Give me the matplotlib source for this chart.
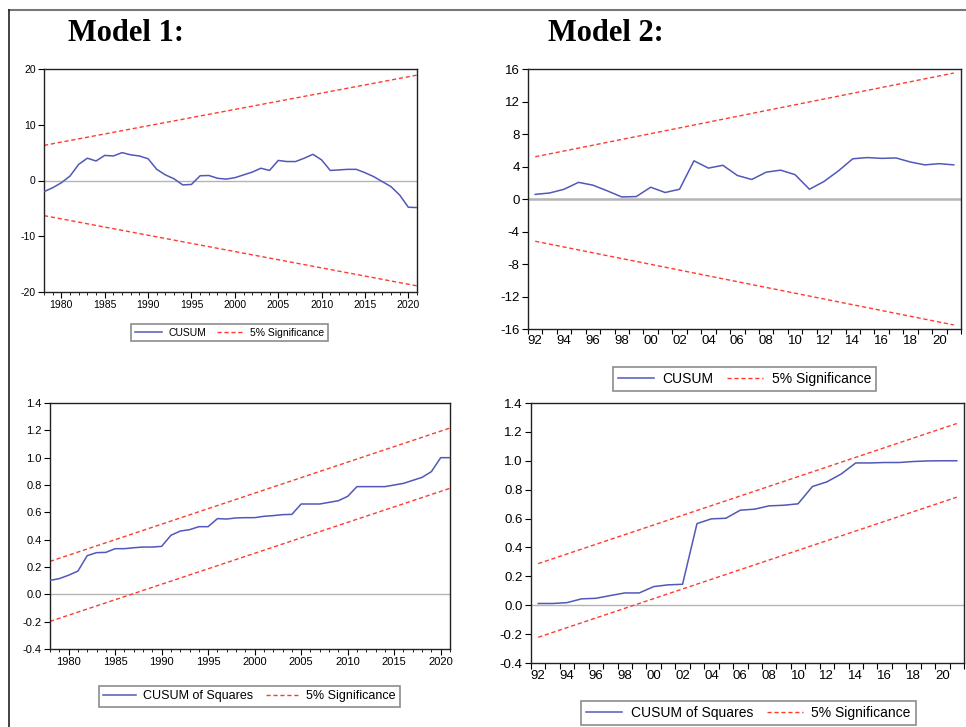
import numpy as np
import matplotlib
matplotlib.use("Agg")
import matplotlib.pyplot as plt
from matplotlib.lines import Line2D

# ---------------- data ----------------
years_m1 = list(range(1978, 2022))
cusum_m1 = [-2.0, -1.3, -0.4, 0.8, 2.9, 4.0, 3.5, 4.5, 4.4, 5.0, 4.6, 4.4, 3.9, 2.0,
            1.0, 0.3, -0.8, -0.7, 0.85, 0.9, 0.4, 0.25, 0.5, 1.0, 1.5, 2.2, 1.8, 3.6,
            3.4, 3.4, 4.0, 4.7, 3.7, 1.8, 1.9, 2.0, 2.0, 1.4, 0.7, -0.2, -1.1, -2.6,
            -4.8, -4.85]
cusum_m1_upper = [6.3, 18.9]      # 5% band at first and last year
cusum_m1_lower = [-6.3, -18.9]

cusumsq_m1 = [0.102, 0.115, 0.14, 0.17, 0.283, 0.305, 0.307, 0.334, 0.334, 0.341, 0.346,
              0.346, 0.351, 0.432, 0.463, 0.473, 0.495, 0.495, 0.554, 0.551, 0.559, 0.561,
              0.561, 0.571, 0.576, 0.583, 0.585, 0.661, 0.661, 0.661, 0.673, 0.685, 0.717,
              0.788, 0.788, 0.788, 0.788, 0.80, 0.812, 0.834, 0.856, 0.898, 1.0, 1.0]
cusumsq_m1_upper = [0.241, 1.217]
cusumsq_m1_lower = [-0.198, 0.776]

years_m2 = list(range(1992, 2022))
cusum_m2 = [0.57, 0.74, 1.2, 2.05, 1.7, 1.0, 0.25, 0.3, 1.45, 0.8, 1.2, 4.7, 3.8, 4.15,
            2.9, 2.4, 3.3, 3.55, 3.0, 1.2, 2.15, 3.45, 4.95, 5.1, 5.0, 5.05, 4.55, 4.2,
            4.35, 4.2]
cusum_m2_upper = [5.2, 15.5]
cusum_m2_lower = [-5.2, -15.5]

cusumsq_m2 = [0.012, 0.012, 0.018, 0.044, 0.048, 0.067, 0.085, 0.085, 0.129, 0.141, 0.145,
              0.565, 0.598, 0.602, 0.658, 0.665, 0.688, 0.692, 0.702, 0.822, 0.854, 0.909,
              0.985, 0.985, 0.988, 0.988, 0.995, 0.999, 1.0, 1.0]
cusumsq_m2_upper = [0.288, 1.258]
cusumsq_m2_lower = [-0.222, 0.748]

titles = ["Model 1:", "Model 2:"]

# ---------------- style ----------------
W, H = 966, 727
BLUE = "#5158b8"
RED = "#ff3b30"
ZERO = "#b4b4b4"
SANS = ["Liberation Sans", "DejaVu Sans"]
plt.rcParams["font.family"] = SANS

fig = plt.figure(figsize=(W / 100, H / 100), dpi=100)
fig.patch.set_facecolor("white")


def rect(l, r, t, b):
    return [l / W, 1 - b / H, (r - l) / W, (b - t) / H]


def panel(r, years, series, upper, lower, ylim, yticks, yfmt, annual2, fs,
          label, leg_xy, leg_fs, zero_lw=1.0, xpad=2, xtl=4.5):
    ax = fig.add_axes(rect(*r))
    ax.axhline(0, color=ZERO, lw=zero_lw, zorder=1)
    ends = [years[0], years[-1]]
    ax.plot(ends, upper, color=RED, lw=1.0, ls=(0, (3, 2)), zorder=2)
    ax.plot(ends, lower, color=RED, lw=1.0, ls=(0, (3, 2)), zorder=2)
    ax.plot(years, series, color=BLUE, lw=1.1, zorder=3)
    ax.set_ylim(*ylim)
    ax.set_yticks(yticks)
    ax.set_yticklabels([yfmt.format(v) for v in yticks])
    if annual2:
        ax.set_xlim(years[0] - 0.5, years[-1] + 0.5)
        ax.set_xticks(np.arange(years[0] - 0.5, years[-1] + 1, 1.0))
        ax.set_xticklabels([])
        labs = [y for y in years if y % 2 == 0]
        ax.set_xticks(labs, minor=True)
        ax.set_xticklabels(["%02d" % (y % 100) for y in labs], minor=True)
        ax.tick_params(axis="x", which="minor", length=0, pad=xpad, labelsize=fs)
        ax.tick_params(axis="x", which="major", length=xtl, width=0.8)
    else:
        ax.set_xlim(years[0], years[-1])
        labs = [y for y in years if y % 5 == 0]
        ax.set_xticks(labs)
        ax.set_xticklabels([str(y) for y in labs])
        ax.set_xticks(years, minor=True)
        ax.tick_params(axis="x", which="major", length=4, width=0.8, labelsize=fs, pad=xpad)
        ax.tick_params(axis="x", which="minor", length=2.5, width=0.6)
    ax.tick_params(axis="y", length=4, width=0.8, labelsize=fs, pad=2)
    for s in ax.spines.values():
        s.set_linewidth(1.0)
        s.set_color("#222222")
    handles = [Line2D([], [], color=BLUE, lw=1.1),
               Line2D([], [], color=RED, lw=1.0, ls=(0, (3, 2)))]
    leg = ax.legend(handles, [label, "5% Significance"], ncol=2,
                    loc="upper center", bbox_to_anchor=(leg_xy[0] / W, 1 - leg_xy[1] / H),
                    bbox_transform=fig.transFigure, fontsize=leg_fs, frameon=True,
                    fancybox=False, edgecolor="#707070", handlelength=2.6,
                    columnspacing=1.0, handletextpad=0.6, borderpad=0.35,
                    borderaxespad=0)
    leg.get_frame().set_linewidth(1.2)
    return ax


panel((44, 417, 69, 292), years_m1, cusum_m1, cusum_m1_upper, cusum_m1_lower,
      (-20, 20), [-20, -10, 0, 10, 20], "{:.0f}", False, 7.5,
      "CUSUM", (229.5, 324), 7.5)
panel((528, 961, 69, 329), years_m2, cusum_m2, cusum_m2_upper, cusum_m2_lower,
      (-16, 16), [-16, -12, -8, -4, 0, 4, 8, 12, 16], "{:.0f}", True, 9.5,
      "CUSUM", (744.5, 367), 10, zero_lw=1.8, xpad=4, xtl=3.5)
panel((50, 450, 403, 649), years_m1, cusumsq_m1, cusumsq_m1_upper, cusumsq_m1_lower,
      (-0.4, 1.4), [-0.4, -0.2, 0.0, 0.2, 0.4, 0.6, 0.8, 1.0, 1.2, 1.4], "{:.1f}", False, 8,
      "CUSUM of Squares", (249.5, 686), 9)
panel((531, 964, 403, 663), years_m2, cusumsq_m2, cusumsq_m2_upper, cusumsq_m2_lower,
      (-0.4, 1.4), [-0.4, -0.2, 0.0, 0.2, 0.4, 0.6, 0.8, 1.0, 1.2, 1.4], "{:.1f}", True, 9.5,
      "CUSUM of Squares", (748.5, 701), 10, xpad=5)

# titles
for x0, t in zip([68, 548], titles):
    fig.text(x0 / W, 1 - 41 / H, t, fontsize=22, fontweight="bold",
             family=["Liberation Serif", "DejaVu Serif"], va="baseline", ha="left")

# outer frame (top and left)
fig.add_artist(Line2D([9 / W, 1], [1 - 10 / H, 1 - 10 / H], transform=fig.transFigure,
                      color="#777777", lw=1.5))
fig.add_artist(Line2D([9 / W, 9 / W], [0, 1 - 10 / H], transform=fig.transFigure,
                      color="#222222", lw=1.2))

fig.savefig("out.png", dpi=100, facecolor="white")
